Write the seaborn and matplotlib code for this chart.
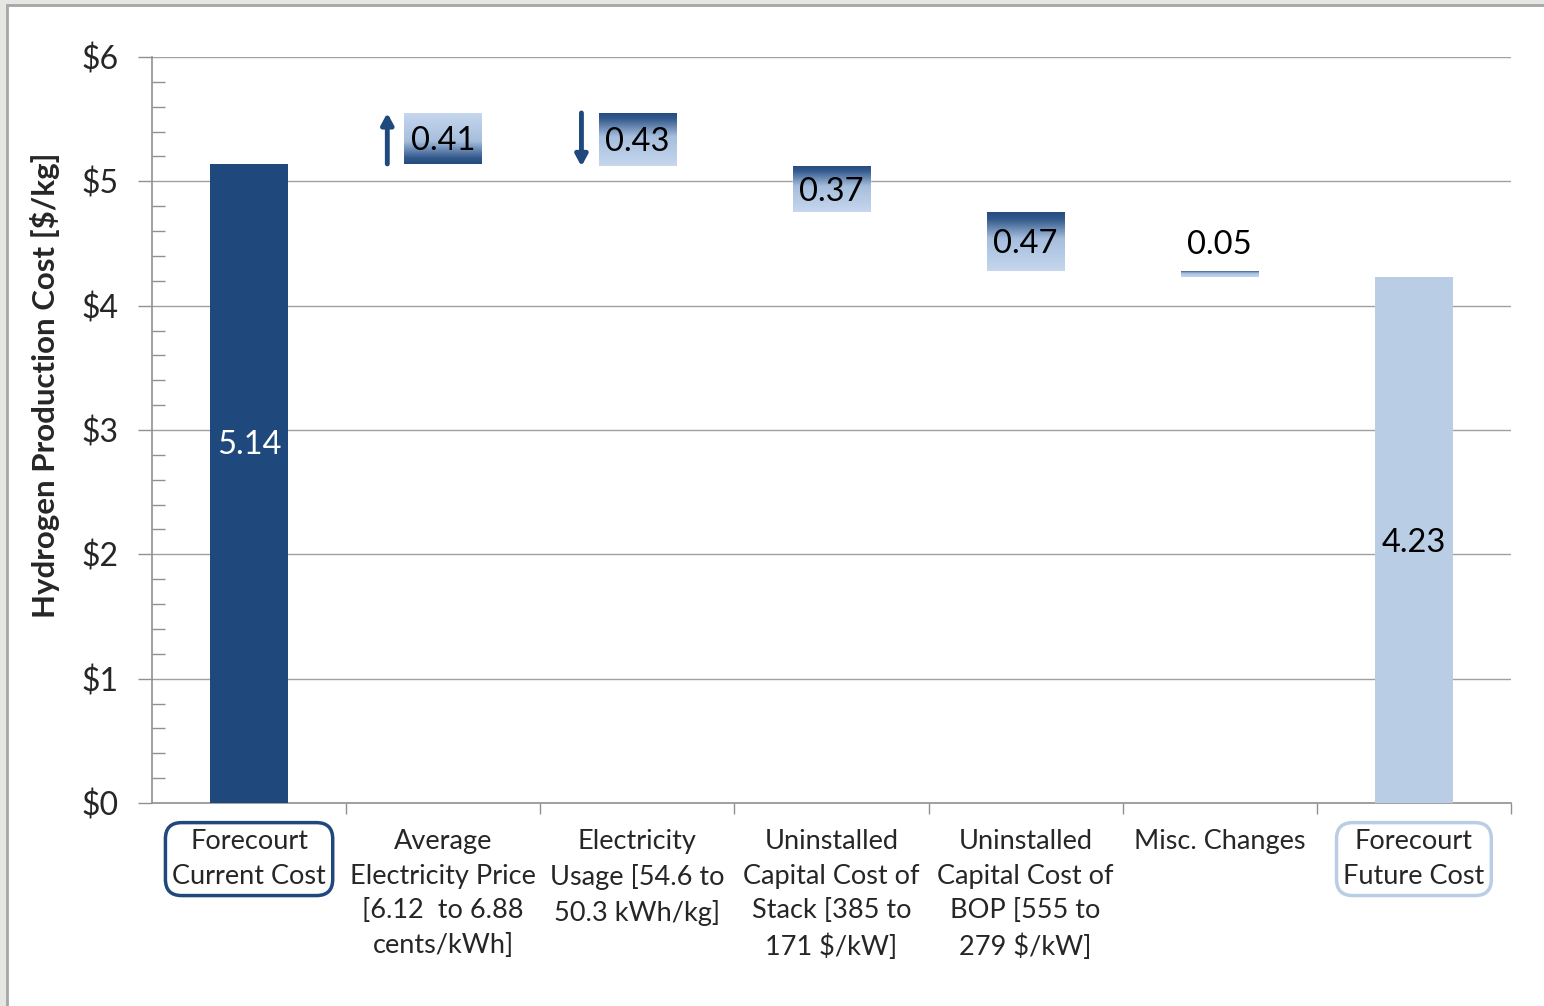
import numpy as np
import matplotlib.pyplot as plt
import seaborn as sns
from matplotlib.colors import LinearSegmentedColormap
from matplotlib.patches import Rectangle
from matplotlib.ticker import MultipleLocator, FixedLocator

categories = ["Forecourt\nCurrent Cost",
              "Average\nElectricity Price\n[6.12  to 6.88\ncents/kWh]",
              "Electricity\nUsage [54.6 to\n50.3 kWh/kg]",
              "Uninstalled\nCapital Cost of\nStack [385 to\n171 $/kW]",
              "Uninstalled\nCapital Cost of\nBOP [555 to\n279 $/kW]",
              "Misc. Changes",
              "Forecourt\nFuture Cost"]
start_cost = 5.14
changes = [0.41, -0.43, -0.37, -0.47, -0.05]
end_cost = 4.23
yticks = [0, 1, 2, 3, 4, 5, 6]
ytick_labels = ["$0", "$1", "$2", "$3", "$4", "$5", "$6"]

dark = "#1F497D"
light = "#B9CDE5"

sns.set_style("white")
plt.rcParams["font.family"] = ["Lato", "DejaVu Sans"]

fig = plt.figure(figsize=(15.44, 10.06), dpi=100)
fig.patch.set_facecolor("#E6E6E2")
fig.patches.append(Rectangle((7 / 1544, -0.01), 1.1, 1 - 5 / 1006 + 0.01,
                             transform=fig.transFigure, fc="white",
                             ec="#A6A6A6", lw=2, zorder=-5))
ax = fig.add_axes([152 / 1544, 203 / 1006, 1359 / 1544, 746 / 1006])
ax.set_facecolor("none")

# totals through seaborn
totals = [start_cost] + [0] * len(changes) + [end_cost]
sns.barplot(x=list(range(len(categories))), y=totals, hue=list(range(len(categories))),
            palette=[dark] + [light] * (len(categories) - 1), width=0.4, saturation=1,
            legend=False, ax=ax, zorder=3, native_scale=True, linewidth=0)

grad_cmap = LinearSegmentedColormap.from_list(
    "g", [(0, "#234C80"), (0.12, "#33598C"), (0.45, "#A6BEDD"), (1, "#C6D7EE")])

# floating bars
level = start_cost
for k, d in enumerate(changes):
    i = k + 1
    bottom = min(level, level + d)
    top = max(level, level + d)
    rect = ax.bar(i, top - bottom, bottom=bottom, width=0.4, color="none", zorder=3)[0]
    g = np.linspace(0, 1, 256).reshape(-1, 1)
    if d < 0:
        g = g[::-1]
    im = ax.imshow(g, extent=[i - 0.2, i + 0.2, bottom, top], origin="lower",
                   aspect="auto", cmap=grad_cmap, zorder=3, interpolation="bilinear")
    im.set_clip_path(rect)
    if top - bottom < 0.15:
        ax.text(i, top + 0.21, f"{abs(d):.2f}", ha="center", va="center",
                fontsize=23.5, color="black", zorder=5)
    else:
        ax.text(i, (top + bottom) / 2 - 0.02, f"{abs(d):.2f}", ha="center", va="center",
                fontsize=23.5, color="black", zorder=5)
    if k < 2:
        ax.annotate("", xy=(i - 0.288, level + d), xytext=(i - 0.288, level),
                    arrowprops=dict(arrowstyle="-|>,head_length=0.65,head_width=0.35",
                                    color=dark, lw=3.5, shrinkA=0, shrinkB=0), zorder=5)
    level += d

ax.text(0, start_cost * 0.56, f"{start_cost:.2f}", ha="center", va="center",
        fontsize=23.5, color="white", zorder=5)
ax.text(len(categories) - 1, end_cost / 2 - 0.02, f"{end_cost:.2f}", ha="center",
        va="center", fontsize=23.5, color="black", zorder=5)

ax.set_xlim(-0.5, len(categories) - 0.5)
ax.set_ylim(0, 6)
ax.set_yticks(yticks)
ax.set_yticklabels(ytick_labels, fontsize=23)
ax.yaxis.set_minor_locator(MultipleLocator(0.2))
ax.grid(axis="y", color="#A0A0A0", lw=1, zorder=0)
ax.set_axisbelow(True)
ax.tick_params(axis="y", which="major", direction="out", length=10, color="#909090",
               width=1, pad=14, left=True)
ax.tick_params(axis="y", which="minor", direction="in", length=9, color="#909090",
               width=1, left=True)

ax.set_xticks(range(len(categories)))
ax.set_xticklabels(categories, fontsize=19.5, linespacing=1.47, va="top")
ax.xaxis.set_minor_locator(FixedLocator(np.arange(0.5, len(categories), 1.0)))
ax.tick_params(axis="x", which="major", length=0, pad=19)
ax.tick_params(axis="x", which="minor", direction="out", length=8, color="#909090",
               width=1, bottom=True)
ticklabels = ax.get_xticklabels()
ticklabels[0].set_bbox(dict(boxstyle="round,pad=0.25,rounding_size=0.6", fc="white",
                            ec=dark, lw=2.5))
ticklabels[-1].set_bbox(dict(boxstyle="round,pad=0.25,rounding_size=0.6", fc="white",
                             ec=light, lw=2.5))

for s in ["top", "right"]:
    ax.spines[s].set_visible(False)
for s in ["left", "bottom"]:
    ax.spines[s].set_color("#909090")
    ax.spines[s].set_linewidth(1.2)

ax.set_xlabel("")
ax.set_ylabel("Hydrogen Production Cost [$/kg]", fontsize=22.5, fontweight="bold")
ax.yaxis.set_label_coords(-0.0677, 0.56)

fig.savefig("out.png", dpi=100)
